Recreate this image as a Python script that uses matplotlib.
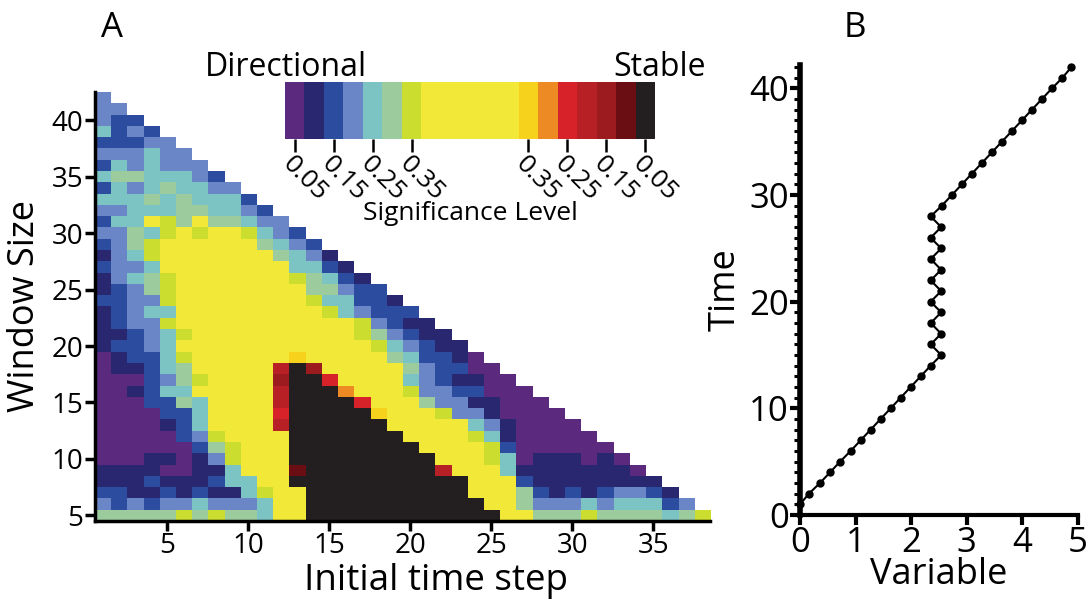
import numpy as np
import matplotlib
matplotlib.use("Agg")
import matplotlib.pyplot as plt
from matplotlib.colors import ListedColormap, BoundaryNorm
from matplotlib.ticker import MultipleLocator

plt.rcParams['font.family'] = ['Open Sans', 'DejaVu Sans']

# ---------------- Panel A data ----------------
# colour classes (directional -> stable)
class_codes = "PNBVTGLYOoRrDMK"
class_colors = ["#5B2A7E", "#28276F", "#2B4C9F", "#6A86C6", "#7CC4C4", "#9CCB9E",
                "#CBDD2E", "#F2E837", "#F6D21D", "#EE8A24", "#D8222A", "#B72025",
                "#9B1B1F", "#6B0E14", "#231F20"]
class_widths = [1, 1, 1, 1, 1, 1, 1, 5, 1, 1, 1, 1, 1, 1, 1]
cbar_tick_labels = ["0.05", "0.15", "0.25", "0.35", "0.35", "0.25", "0.15", "0.05"]
cbar_tick_class = [0, 2, 4, 6, 8, 10, 12, 14]

window_sizes = list(range(42, 4, -1))      # rows, top to bottom
initial_steps = list(range(1, 39))
cells = [
    "V",
    "VV",
    "VBB",
    "TBVB",
    "BBBVV",
    "VVVTVV",
    "BTVTVVV",
    "TGGTTTVB",
    "BTVTGTTVV",
    "TTTGTGTTTB",
    "VVTTTGGTTVB",
    "BTTYLGYGGTVV",
    "VVGTLYLYYLTVB",
    "BVGLYYYYYYGTVB",
    "NVTL" + "YYYYYYY" + "GTVN",
    "BVVT" + "YYYYYYYY" + "TTBN",
    "NVTGL" + "YYYYYYY" + "LGTBN",
    "NBVGL" + "YYYYYYYY" + "GGVBB",
    "BBVVL" + "YYYYYYYY" + "LTTBBN",
    "NBVTT" + "YYYYYYYYY" + "LTVBBB",
    "NBVVL" + "YYYYYYYYYYY" + "LVBNN",
    "NNBVTL" + "YYYYYYYYYY" + "LGVBNN",
    "NBBVT" + "YYYYYYYYYYYY" + "LTVBNN",
    "PNBBTL" + "YYYYYY" + "O" + "YYYYY" + "GTBBNP",
    "PNNBTG" + "YYYYY" + "rKD" + "YYYYY" + "GVBBPP",
    "PPPBVGL" + "YYYY" + "DKKR" + "YYYY" + "TVBNNPP",
    "PPNBTT" + "YYYYY" + "rKKKo" + "YYY" + "LVVBBPPP",
    "PPPBBGT" + "YYYY" + "rKKKKR" + "YYY" + "GVVNNPPP",
    "PPPPBBT" + "YYYY" + "RKKKKK" + "O" + "YYY" + "LVVN" + "PPPP",
    "PPPPNBT" + "YYYY" + "rKKKKKK" + "YYYYY" + "TVN" + "PPPP",
    "PPPPPBVL" + "YYYY" + "KKKKKKK" + "YYYY" + "LTN" + "PPPPP",
    "PPPPPPBGL" + "YYY" + "KKKKKKKK" + "YYYY" + "LB" + "PPPPPP",
    "PPPNNPNVL" + "YYY" + "KKKKKKKKK" + "YYY" + "LT" + "PNNNPNP",
    "NNNNPPNNT" + "YYY" + "M" + "KKKKKKKK" + "r" + "YYY" + "T" + "NNNNNNN" + "P",
    "NNNBNNNBTT" + "YY" + "KKKKKKKKKKK" + "YYY" + "B" + "NNNNNNNN",
    "BBNNBNBNNTL" + "YY" + "KKKKKKKKKK" + "YYY" + "GBNBNBVVBN",
    "VBVBVVTVVVT" + "YY" + "KKKKKKKKKKK" + "YY" + "GVVVTVTTTBV",
    "GGGGGLGLGGT" + "YY" + "KKKKKKKKKKKK" + "YY" + "GGGLGGGGTGL",
]

# ---------------- Panel B data ----------------
time_vals = list(range(1, 43))
variable_vals = [0.00, 0.16, 0.36, 0.54, 0.72, 0.91, 1.09, 1.27, 1.45, 1.63,
                 1.81, 1.99, 2.17, 2.35, 2.54, 2.35, 2.54, 2.35, 2.54, 2.35,
                 2.54, 2.35, 2.54, 2.35, 2.54, 2.35, 2.54, 2.35, 2.55, 2.73,
                 2.91, 3.09, 3.27, 3.45, 3.63, 3.81, 3.99, 4.17, 4.35, 4.53,
                 4.72, 4.88]

# ---------------- figure ----------------
W, H = 1090, 607
fig = plt.figure(figsize=(W / 100, H / 100), dpi=100)

def fx(px):
    return px / W

def fy(py):
    return 1 - py / H

# grid matrix
n = len(initial_steps)
Z = np.full((len(window_sizes), n), np.nan)
for i, row in enumerate(cells):
    for j, ch in enumerate(row):
        Z[i, j] = class_codes.index(ch)
Zm = np.ma.masked_invalid(Z)
cmap = ListedColormap(class_colors)
norm = BoundaryNorm(np.arange(-0.5, len(class_colors) + 0.5, 1), cmap.N)

axA = fig.add_axes([fx(94.5), fy(521), fx(710 - 94.5), (521 - 92) / H])
axA.imshow(Zm, cmap=cmap, norm=norm, origin='upper', aspect='auto',
           interpolation='nearest',
           extent=(initial_steps[0] - 0.5, initial_steps[-1] + 0.5,
                   window_sizes[-1] - 0.5, window_sizes[0] + 0.5))
axA.set_xlim(0.5, 38.5)
axA.set_ylim(4.5, 42.5)
for s in ['top', 'right']:
    axA.spines[s].set_visible(False)
for s in ['left', 'bottom']:
    axA.spines[s].set_linewidth(2.5)
axA.set_xticks([5, 10, 15, 20, 25, 30, 35])
axA.set_yticks([5, 10, 15, 20, 25, 30, 35, 40])
axA.tick_params(length=7, width=2.5, labelsize=20, pad=1)
axA.set_ylabel("Window Size", fontsize=26, labelpad=6)
fig.text(fx(436), fy(581), "Initial time step", fontsize=26.5,
         ha='center', va='center')

# colorbar (custom)
axC = fig.add_axes([fx(285), fy(139), fx(655 - 285), (139 - 82) / H])
edges = np.concatenate([[0], np.cumsum(class_widths)])
for k, col in enumerate(class_colors):
    axC.axvspan(edges[k], edges[k + 1], color=col, lw=0)
axC.set_xlim(0, edges[-1])
axC.set_ylim(0, 1)
axC.set_yticks([])
for s in axC.spines.values():
    s.set_visible(False)
centers = [(edges[k] + edges[k + 1]) / 2 for k in cbar_tick_class]
axC.set_xticks(centers)
axC.set_xticklabels(cbar_tick_labels, rotation=-45, ha='left', va='top',
                    rotation_mode='anchor', fontsize=19)
axC.tick_params(axis='x', length=9, width=1.8, pad=0)
axC.set_xlabel("Significance Level", fontsize=19, labelpad=-4)
fig.text(fx(205), fy(68), "Directional", fontsize=23, ha='left', va='center')
fig.text(fx(706), fy(68), "Stable", fontsize=23, ha='right', va='center')

# ---------------- Panel B ----------------
axB = fig.add_axes([fx(800), fy(515), fx(1078 - 800), (515 - 65) / H])
axB.plot(variable_vals, time_vals, color='black', lw=1.5, marker='o',
         markersize=5, clip_on=False, zorder=3)
axB.set_xlim(0, 5)
axB.set_ylim(0, 42.2)
for s in ['top', 'right']:
    axB.spines[s].set_visible(False)
axB.spines['left'].set_linewidth(4)
axB.spines['bottom'].set_linewidth(3)
axB.set_xticks([0, 1, 2, 3, 4, 5])
axB.set_yticks([0, 10, 20, 30, 40])
axB.yaxis.set_minor_locator(MultipleLocator(1))
axB.tick_params(axis='both', which='major', length=7, width=3, labelsize=25, pad=1)
axB.tick_params(axis='y', which='minor', length=4, width=2.2)
axB.set_xlabel("Variable", fontsize=26, labelpad=-2)
axB.set_ylabel("Time", fontsize=26, labelpad=4)

fig.text(fx(112), fy(28), "A", fontsize=25, ha='center', va='center')
fig.text(fx(855), fy(28), "B", fontsize=25, ha='center', va='center')

fig.savefig("out.png", dpi=100)
